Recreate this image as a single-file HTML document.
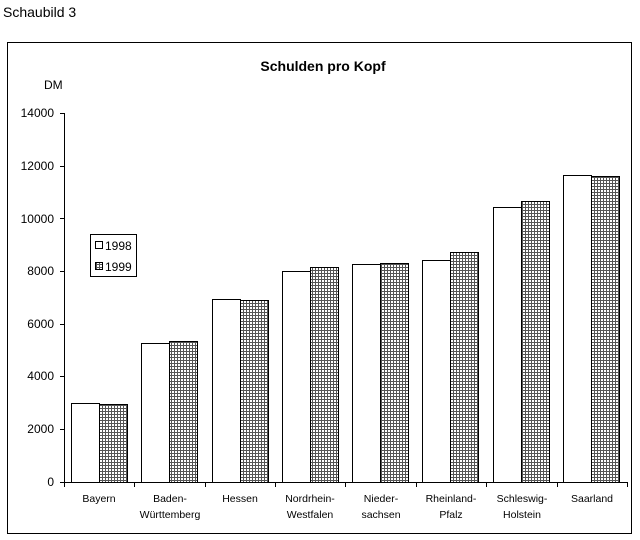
<!DOCTYPE html>
<html><head><meta charset="utf-8"><style>body{margin:0;background:#fff}svg{display:block}</style></head><body>
<svg width="640" height="540" xmlns="http://www.w3.org/2000/svg" font-family="Liberation Sans, Arial, sans-serif">
<defs><pattern id="g" width="3" height="3" patternUnits="userSpaceOnUse"><rect width="3" height="3" fill="#fff"/><path d="M0 0.5H3M0.5 0V3" stroke="#555" stroke-width="1"/></pattern></defs>
<text x="3" y="17" font-size="14">Schaubild 3</text>
<rect x="7.5" y="42.5" width="624" height="491" fill="none" stroke="#000"/>
<text x="323" y="71" font-size="14" font-weight="bold" text-anchor="middle">Schulden pro Kopf</text>
<text x="44" y="89" font-size="12">DM</text>
<g font-size="12" text-anchor="end">
<text x="54" y="117">14000</text><text x="54" y="170">12000</text><text x="54" y="223">10000</text><text x="54" y="275">8000</text><text x="54" y="328">6000</text><text x="54" y="380">4000</text><text x="54" y="433">2000</text><text x="54" y="486">0</text>
</g>
<g stroke="#000" fill="none">
<path d="M64.5 113V482.5H627"/>
<path d="M60 113.5H64M60 166.5H64M60 218.5H64M60 271.5H64M60 324.5H64M60 376.5H64M60 429.5H64M60 482.5H64"/>
<path d="M64.5 482v5M134.5 482v5M205.5 482v5M275.5 482v5M345.5 482v5M416.5 482v5M486.5 482v5M557.5 482v5M627.5 482v5"/>
</g>
<g stroke="#000">
<rect x="71.5" y="403.5" width="28" height="79" fill="#fff"/><rect x="99.5" y="404.5" width="28" height="78" fill="url(#g)"/>
<rect x="141.5" y="343.5" width="28" height="139" fill="#fff"/><rect x="169.5" y="341.5" width="28" height="141" fill="url(#g)"/>
<rect x="212.5" y="299.5" width="28" height="183" fill="#fff"/><rect x="240.5" y="300.5" width="28" height="182" fill="url(#g)"/>
<rect x="282.5" y="271.5" width="28" height="211" fill="#fff"/><rect x="310.5" y="267.5" width="28" height="215" fill="url(#g)"/>
<rect x="352.5" y="264.5" width="28" height="218" fill="#fff"/><rect x="380.5" y="263.5" width="28" height="219" fill="url(#g)"/>
<rect x="422.5" y="260.5" width="28" height="222" fill="#fff"/><rect x="450.5" y="252.5" width="28" height="230" fill="url(#g)"/>
<rect x="493.5" y="207.5" width="28" height="275" fill="#fff"/><rect x="521.5" y="201.5" width="28" height="281" fill="url(#g)"/>
<rect x="563.5" y="175.5" width="28" height="307" fill="#fff"/><rect x="591.5" y="176.5" width="28" height="306" fill="url(#g)"/>
</g>
<g font-size="10.5" text-anchor="middle">
<text x="99" y="502">Bayern</text>
<text x="170" y="502">Baden-</text><text x="170" y="518">Württemberg</text>
<text x="240" y="502">Hessen</text>
<text x="310" y="502">Nordrhein-</text><text x="310" y="518">Westfalen</text>
<text x="381" y="502">Nieder-</text><text x="381" y="518">sachsen</text>
<text x="451" y="502">Rheinland-</text><text x="451" y="518">Pfalz</text>
<text x="522" y="502">Schleswig-</text><text x="522" y="518">Holstein</text>
<text x="592" y="502">Saarland</text>
</g>
<rect x="90.5" y="234.5" width="46" height="42" fill="#fff" stroke="#000"/>
<rect x="95.5" y="241.5" width="7" height="7" fill="#fff" stroke="#000"/>
<rect x="95.5" y="262.5" width="7" height="7" fill="url(#g)" stroke="#000"/>
<text x="105" y="250" font-size="12">1998</text>
<text x="105" y="271" font-size="12">1999</text>
</svg>
</body></html>
